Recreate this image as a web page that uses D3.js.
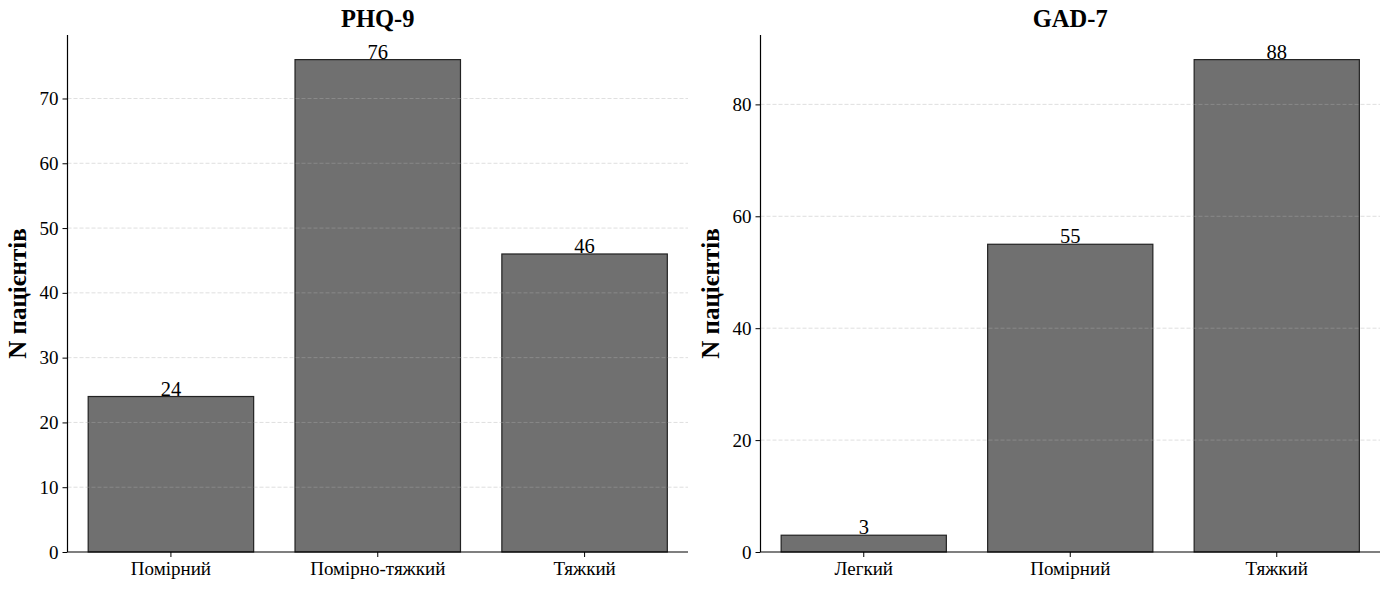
<!DOCTYPE html>
<html><head><meta charset="utf-8">
<script src="https://cdn.jsdelivr.net/npm/d3@7"></script>
<style>body{margin:0;background:#fff;} text{font-family:"Liberation Serif","Times New Roman",serif;}</style>
</head><body><svg id="c" width="1389" height="590"></svg>
<script>
const phqCategories = ["Помірний", "Помірно-тяжкий", "Тяжкий"];
const phqValues = [24, 76, 46];
const phqTicks = [0, 10, 20, 30, 40, 50, 60, 70];
const gadCategories = ["Легкий", "Помірний", "Тяжкий"];
const gadValues = [3, 55, 88];
const gadTicks = [0, 20, 40, 60, 80];
const titles = ["PHQ-9", "GAD-7"];
const yLabel = "N пацієнтів";

const svg = d3.select("#c");
const panels = [
  {cats: phqCategories, vals: phqValues, ticks: phqTicks, title: titles[0], x0: 67.5, x1: 688},
  {cats: gadCategories, vals: gadValues, ticks: gadTicks, title: titles[1], x0: 760.5, x1: 1380}
];
const yTop = 35, yBot = 552;

panels.forEach(p => {
  const g = svg.append("g");
  const x = d3.scaleBand().domain(p.cats).range([p.x0, p.x1]).paddingInner(0.2).paddingOuter(0.1);
  const y = d3.scaleLinear().domain([0, d3.max(p.vals) * 1.05]).range([yBot, yTop]);

  g.selectAll("rect.bar").data(p.vals).enter().append("rect")
    .attr("x", (d, i) => x(p.cats[i]))
    .attr("width", x.bandwidth())
    .attr("y", d => y(d))
    .attr("height", d => y(0) - y(d))
    .attr("fill", "#707070")
    .attr("stroke", "#222")
    .attr("stroke-width", 1.2);

  g.selectAll("line.grid").data(p.ticks.filter(t => t > 0)).enter().append("line")
    .attr("x1", p.x0).attr("x2", p.x1)
    .attr("y1", d => y(d)).attr("y2", d => y(d))
    .attr("stroke", "#b0b0b0").attr("stroke-opacity", 0.5)
    .attr("stroke-dasharray", "4,2").attr("stroke-width", 0.8);

  g.selectAll("text.val").data(p.vals).enter().append("text")
    .attr("x", (d, i) => x(p.cats[i]) + x.bandwidth() / 2)
    .attr("y", d => y(d) - 1)
    .attr("text-anchor", "middle")
    .attr("font-size", 20.5)
    .attr("fill", "#000")
    .text(d => d);

  const ya = d3.axisLeft(y).tickValues(p.ticks).tickSize(5).tickPadding(4).tickFormat(d3.format("d"));
  const yg = g.append("g").attr("transform", `translate(${p.x0},0)`).call(ya);
  yg.select(".domain").attr("d", `M0,${yBot}V${yTop}`).attr("stroke-width", 1.2);
  yg.selectAll("text").attr("font-size", 19).attr("fill", "#000");

  const xa = d3.axisBottom(x).tickSize(5).tickPadding(5);
  const xg = g.append("g").attr("transform", `translate(0,${yBot})`).call(xa);
  xg.select(".domain").attr("d", `M${p.x0},0H${p.x1}`).attr("stroke-width", 1.2);
  xg.selectAll("text").attr("font-size", 19).attr("fill", "#000");

  g.append("text").attr("x", (p.x0 + p.x1) / 2).attr("y", 27)
    .attr("text-anchor", "middle").attr("font-size", 24.5).attr("font-weight", "bold").text(p.title);

  g.append("text").attr("transform", `translate(${p.x0 - 42},${(yTop + yBot) / 2}) rotate(-90)`)
    .attr("text-anchor", "middle").attr("font-size", 25).attr("font-weight", "bold").text(yLabel);
});
</script></body></html>
